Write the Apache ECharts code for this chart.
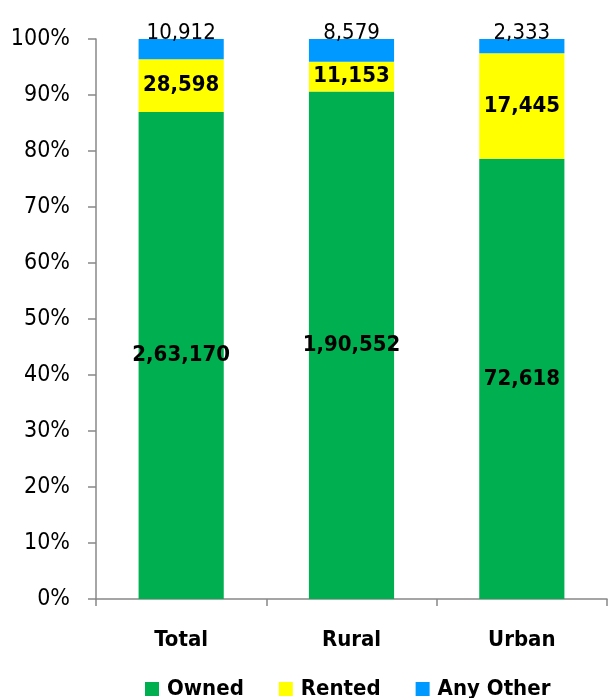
<!DOCTYPE html>
<html>
<head>
<meta charset="utf-8">
<script src="https://cdn.jsdelivr.net/npm/echarts@6/dist/echarts.min.js"></script>
<style>
  html, body { margin: 0; padding: 0; background: #fff; }
  #chart { width: 608px; height: 698px; }
</style>
</head>
<body>
<div id="chart"></div>
<script>
  var categories = ['Total', 'Rural', 'Urban']
  var owned = [263170, 190552, 72618]
  var rented = [28598, 11153, 17445]
  var anyOther = [10912, 8579, 2333]
  var yTicks = [0, 10, 20, 30, 40, 50, 60, 70, 80, 90, 100]

  var FONT = '"DejaVu Sans Condensed", "Liberation Sans Narrow", sans-serif'

  // indian style grouping: 2,63,170
  function inr (n) {
    var s = String(Math.round(n))
    if (s.length <= 3) return s
    var last = s.slice(-3)
    var rest = s.slice(0, -3)
    rest = rest.replace(/\B(?=(\d{2})+(?!\d))/g, ',')
    return rest + ',' + last
  }

  var totals = categories.map(function (c, i) { return owned[i] + rented[i] + anyOther[i] })
  function pct (arr) {
    return arr.map(function (v, i) { return { value: v / totals[i] * 100, raw: v } })
  }

  var chart = echarts.init(document.getElementById('chart'))
  chart.setOption({
    animation: false,
    textStyle: { fontFamily: FONT },
    grid: { left: 96, right: 1, top: 39, bottom: 99, containLabel: false },
    legend: {
      top: 673,
      left: 140,
      itemWidth: 14,
      itemHeight: 14,
      itemGap: 35,
      icon: 'rect',
      textStyle: { fontFamily: FONT, fontSize: 22, fontWeight: 'bold', color: '#000', padding: [0, 0, 0, 3] }
    },
    xAxis: {
      type: 'category',
      data: categories,
      axisLine: { lineStyle: { color: '#888', width: 1.5 } },
      axisTick: { show: true, length: 7, lineStyle: { color: '#888', width: 1.5 } },
      axisLabel: { margin: 30, fontFamily: FONT, fontSize: 22, fontWeight: 'bold', color: '#000' }
    },
    yAxis: {
      type: 'value',
      min: yTicks[0],
      max: yTicks[yTicks.length - 1],
      interval: 10,
      splitLine: { show: false },
      axisLine: { show: true, lineStyle: { color: '#888', width: 1.5 } },
      axisTick: { show: true, length: 8, lineStyle: { color: '#888', width: 1.5 } },
      axisLabel: {
        margin: 26,
        fontFamily: FONT,
        fontSize: 23,
        color: '#000',
        formatter: function (v) { return v + '%' }
      }
    },
    series: [
      {
        name: 'Owned',
        type: 'bar',
        stack: 'a',
        barWidth: '50%',
        itemStyle: { color: '#00B050' },
        label: {
          show: true,
          position: 'inside',
          fontFamily: FONT,
          fontSize: 22,
          fontWeight: 'bold',
          color: '#000',
          formatter: function (p) { return inr(p.data.raw) }
        },
        data: pct(owned)
      },
      {
        name: 'Rented',
        type: 'bar',
        stack: 'a',
        itemStyle: { color: '#FFFF00' },
        label: {
          show: true,
          position: 'inside',
          fontFamily: FONT,
          fontSize: 22,
          fontWeight: 'bold',
          color: '#000',
          formatter: function (p) { return inr(p.data.raw) }
        },
        data: pct(rented)
      },
      {
        name: 'Any Other',
        type: 'bar',
        stack: 'a',
        itemStyle: { color: '#0099FF' },
        label: {
          show: true,
          position: 'top',
          distance: -5,
          fontFamily: FONT,
          fontSize: 22,
          color: '#000',
          formatter: function (p) { return inr(p.data.raw) }
        },
        data: pct(anyOther)
      }
    ]
  })
</script>
</body>
</html>
